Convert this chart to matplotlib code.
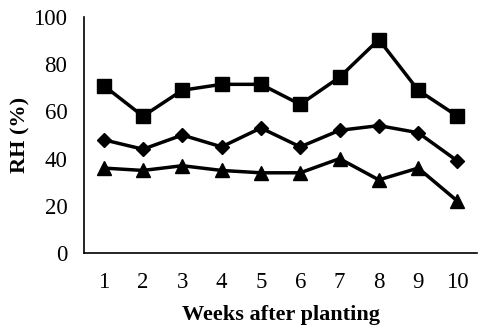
import matplotlib
matplotlib.use("Agg")
import matplotlib.pyplot as plt

weeks = [1, 2, 3, 4, 5, 6, 7, 8, 9, 10]
rh_max = [71, 58, 69, 71.5, 71.5, 63, 74.5, 90.5, 69, 58]
rh_mean = [48, 44, 50, 45, 53, 45, 52, 54, 51, 39]
rh_min = [36, 35, 37, 35, 34, 34, 40, 31, 36, 22]

plt.rcParams["font.family"] = ["Liberation Serif", "DejaVu Serif"]

fig = plt.figure(figsize=(4.8, 3.29), dpi=100)
ax = fig.add_axes([0.175, 0.231, 0.819, 0.717])

line_kw = dict(color="black", linewidth=2.5)
ax.plot(weeks, rh_max, marker="s", markersize=10, **line_kw)
ax.plot(weeks, rh_mean, marker="D", markersize=7.5, **line_kw)
ax.plot(weeks, rh_min, marker="^", markersize=10, **line_kw)

ax.set_xlim(0.5, 10.5)
ax.set_ylim(0, 100)
ax.set_xticks(weeks)
ax.set_yticks(range(0, 101, 20))
ax.tick_params(length=0, labelsize=16.5, pad=14)
ax.tick_params(axis="y", pad=12)
for side in ("top", "right"):
    ax.spines[side].set_visible(False)
for side in ("left", "bottom"):
    ax.spines[side].set_linewidth(1.2)

ax.set_xlabel("Weeks after planting", fontsize=16, weight="bold", labelpad=8)
ax.set_ylabel("RH (%)", fontsize=16, weight="bold", labelpad=2)

fig.savefig("out.png", dpi=100)
